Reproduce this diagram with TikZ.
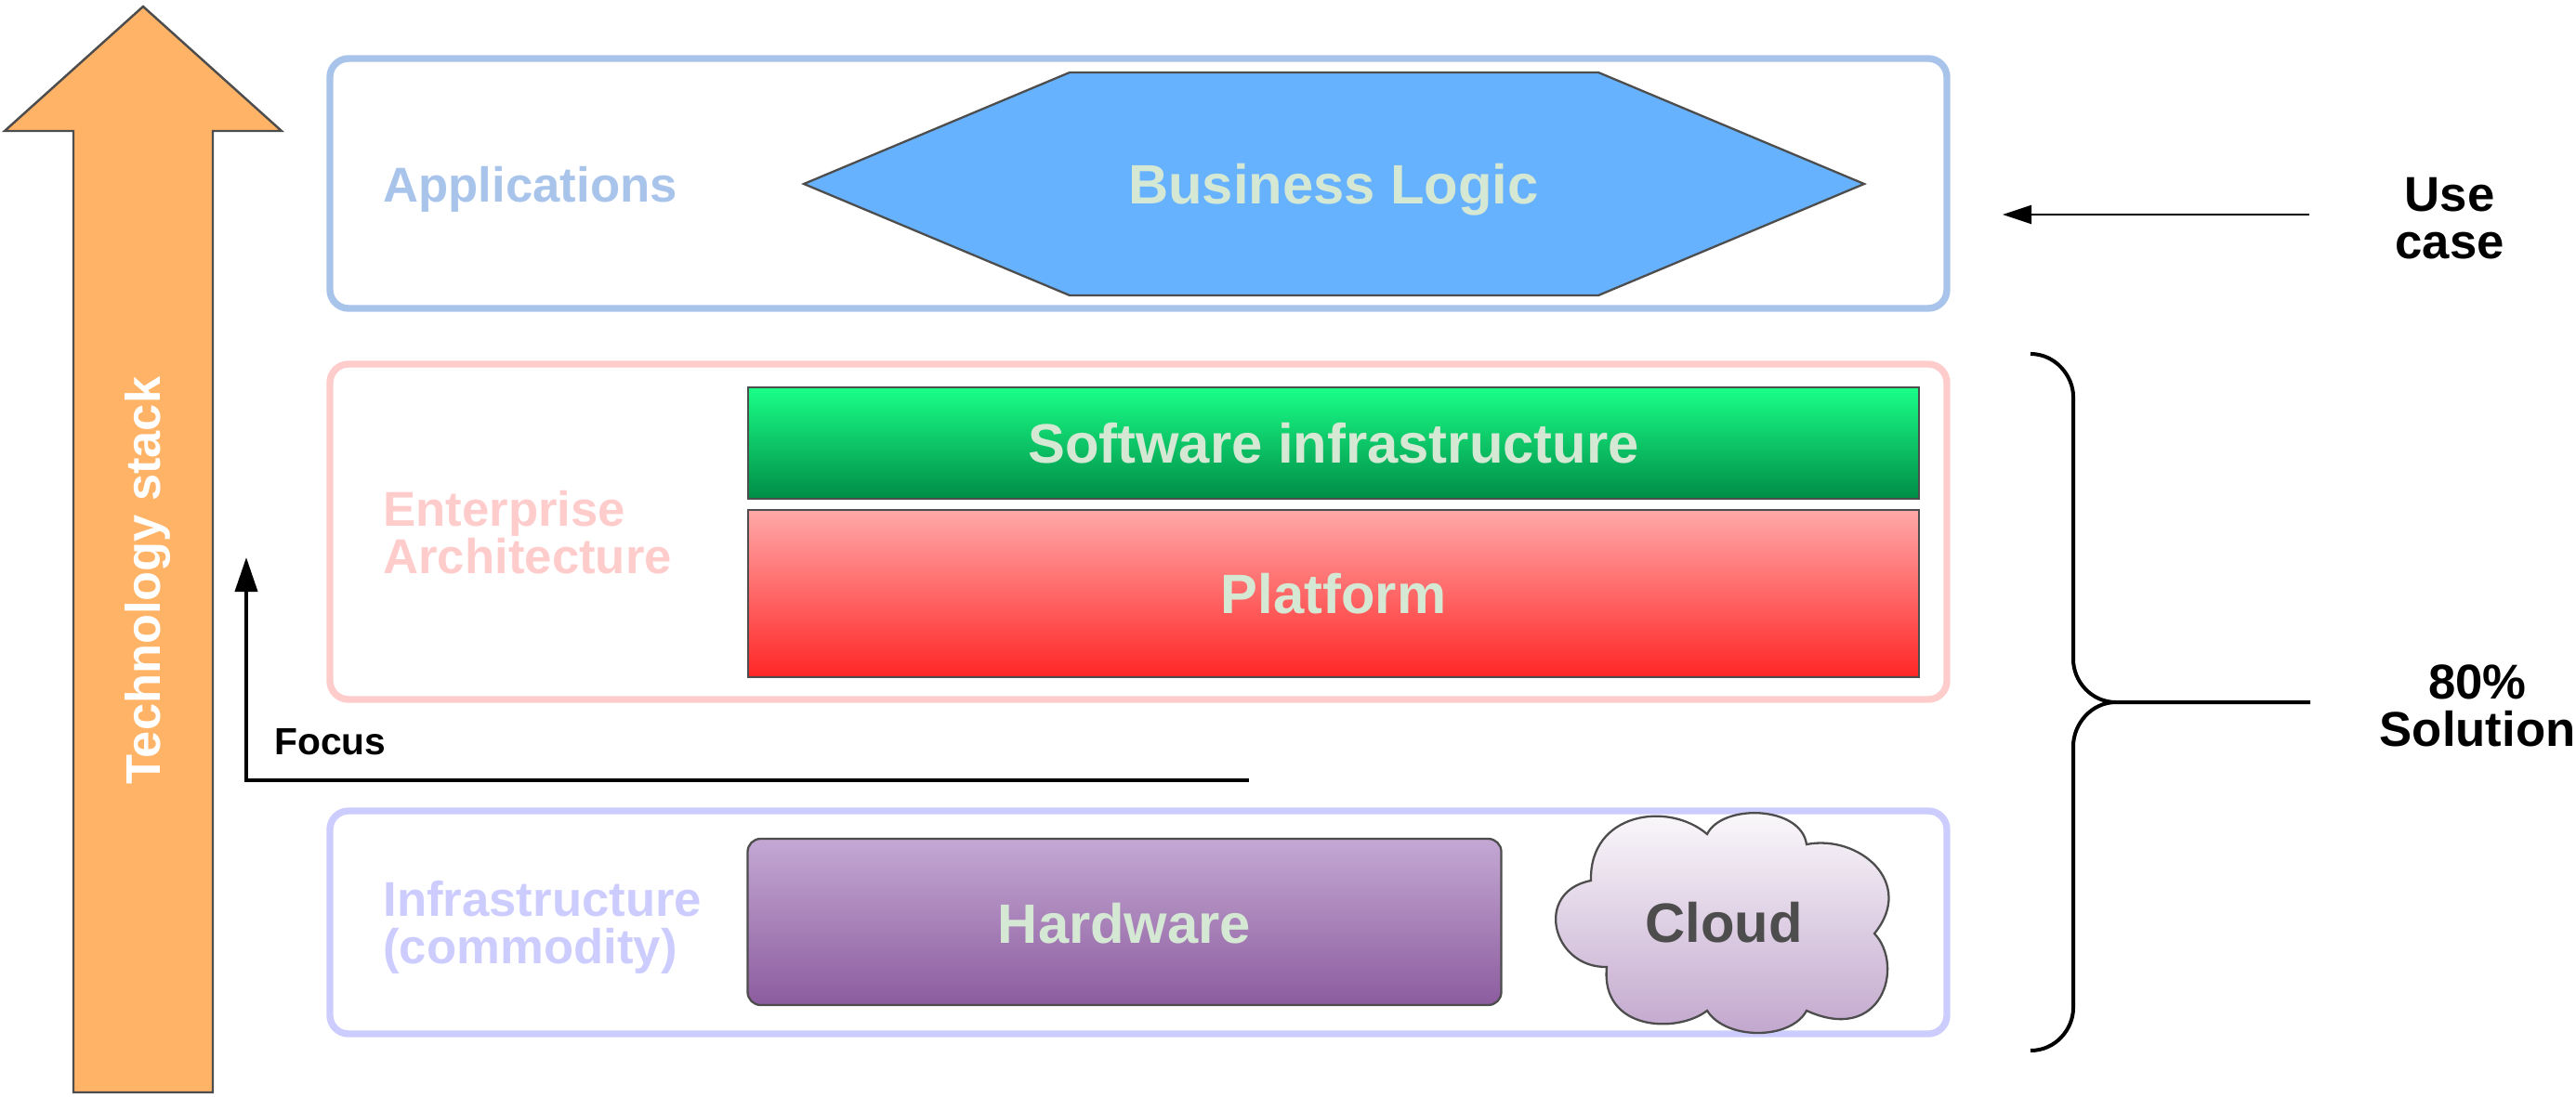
\documentclass[tikz,border=0pt]{standalone}
\usepackage{fontspec}
\setmainfont{Liberation Sans}
\usetikzlibrary{arrows.meta}
\definecolor{appblue}{HTML}{A9C4EB}
\definecolor{entpink}{HTML}{FFCCCC}
\definecolor{infblue}{HTML}{CCCCFF}
\definecolor{edgegray}{HTML}{4D4D4D}
\definecolor{boxtext}{HTML}{D5E8D4}
\tikzset{
  layerbox/.style={draw=#1,line width=2.1pt,rounded corners=0.2cm,minimum width=17.4cm},
  sidelabel/.style={text=#1,anchor=west,align=left,font=\fontsize{15pt}{14.5pt}\selectfont\bfseries},
  inlabel/.style={text=boxtext,font=\fontsize{17pt}{20pt}\selectfont\bfseries},
  sidenote/.style={align=center,font=\fontsize{15pt}{14.5pt}\selectfont\bfseries},
  stackbox/.style={draw=edgegray,line width=0.65pt,minimum width=#1},
  thinarrow/.style={-{Triangle[length=0.31cm,width=0.2cm]},line width=0.57pt},
  thickarrow/.style={-{Triangle[length=0.37cm,width=0.24cm]},line width=1.14pt}
}
\begin{document}
\begin{tikzpicture}
    \useasboundingbox (0,0) rectangle (27.72,-11.81);
    \draw[draw=edgegray,fill={rgb,255:red,255;green,179;blue,102},line width=0.7pt]
      (1.54,-0.07) -- (3.03,-1.41) -- (2.29,-1.41) -- (2.29,-11.76) -- (0.79,-11.76) -- (0.79,-1.41) -- (0.05,-1.41) -- cycle;
    \node[rotate=90,text=white,font=\fontsize{14.9pt}{16pt}\selectfont\bfseries] (stacklabel) at (1.59,-6.25) {Technology stack};

    \node[layerbox=appblue,minimum height=2.69cm] (appbox) at (12.25,-1.975) {};
    \node[layerbox=entpink,minimum height=3.61cm] (entbox) at (12.25,-5.725) {};
    \node[layerbox=infblue,minimum height=2.40cm] (infbox) at (12.25,-9.93) {};
    \node[sidelabel=appblue] (applabel) at (4.00,-2.04) {Applications};
    \node[sidelabel=entpink] (entlabel) at (4.00,-5.73) {Enterprise\\Architecture};
    \node[sidelabel=infblue] (inflabel) at (4.00,-9.98) {Infrastructure\\(commodity)};

    \draw[draw=edgegray,fill={rgb,255:red,102;green,178;blue,255},line width=0.65pt]
      (8.65,-1.98) -- (11.51,-0.78) -- (17.20,-0.78) -- (20.06,-1.98) -- (17.20,-3.18) -- (11.51,-3.18) -- cycle;
    \node[inlabel] (bizlabel) at (14.35,-2.04) {Business Logic};

    \node[stackbox=12.6cm,minimum height=1.20cm,top color={rgb,255:red,26;green,255;blue,136},bottom color={rgb,255:red,0;green,140;blue,70}] (softbox) at (14.35,-4.77) {};
    \node[inlabel] (softlabel) at (softbox) {Software infrastructure};
    \node[stackbox=12.6cm,minimum height=1.80cm,top color={rgb,255:red,255;green,168;blue,168},bottom color={rgb,255:red,255;green,38;blue,38}] (platbox) at (14.35,-6.39) {};
    \node[inlabel] (platlabel) at (platbox) {Platform};

    \node[stackbox=8.11cm,minimum height=1.79cm,rounded corners=0.14cm,top color={rgb,255:red,196;green,168;blue,212},bottom color={rgb,255:red,140;green,92;blue,158}] (hardbox) at (12.10,-9.925) {};
    \node[inlabel] (hardlabel) at (12.10,-9.94) {Hardware};

    \draw[draw=edgegray,line width=0.65pt,top color={rgb,255:red,253;green,252;blue,253},bottom color={rgb,255:red,191;green,163;blue,203}]
      (17.12,-9.48) .. controls (17.10,-8.75) and (17.95,-8.62) .. (18.37,-8.98)
      .. controls (18.53,-8.65) and (19.38,-8.67) .. (19.44,-9.09)
      .. controls (20.00,-8.98) and (20.62,-9.50) .. (20.17,-10.05)
      .. controls (20.50,-10.40) and (20.25,-11.25) .. (19.44,-10.88)
      .. controls (19.27,-11.20) and (18.57,-11.20) .. (18.37,-10.88)
      .. controls (18.05,-11.13) and (17.22,-11.10) .. (17.29,-10.41)
      .. controls (16.70,-10.42) and (16.50,-9.60) .. cycle;
    \node[text=edgegray,font=\fontsize{17pt}{20pt}\selectfont\bfseries] (cloudlabel) at (18.55,-9.93) {Cloud};

    \coordinate (focusstart) at (13.44,-8.40);
    \coordinate (focuscorner) at (2.65,-8.40);
    \coordinate (focustip) at (2.65,-6.00);
    \draw[thickarrow] (focusstart) -- (focuscorner) -- (focustip);
    \node[anchor=base west,inner sep=0pt,font=\fontsize{11.6pt}{14pt}\selectfont\bfseries] (focuslabel) at (2.945,-8.12) {Focus};

    \coordinate (usestart) at (24.85,-2.31);
    \coordinate (usetip) at (21.55,-2.31);
    \draw[thinarrow] (usestart) -- (usetip);
    \node[sidenote] (uselabel) at (26.36,-2.35) {Use\\case};

    \coordinate (braceend) at (24.86,-7.56);
    \coordinate (bracetop) at (21.85,-3.81);
    \coordinate (bracebottom) at (21.85,-11.31);
    \coordinate (bracemid) at (22.77,-7.56);
    \draw[line width=1.14pt] (bracetop) .. controls (22.12,-3.81) and (22.31,-4.05) .. (22.31,-4.27)
      -- (22.31,-7.10) .. controls (22.31,-7.33) and (22.50,-7.56) .. (bracemid) -- (braceend);
    \draw[line width=1.14pt] (bracemid) .. controls (22.50,-7.56) and (22.31,-7.80) .. (22.31,-8.03)
      -- (22.31,-10.85) .. controls (22.31,-11.08) and (22.12,-11.31) .. (bracebottom);
    \node[sidenote] (sollabel) at (26.66,-7.60) {80\%\\Solution};
  \end{tikzpicture}
\end{document}
